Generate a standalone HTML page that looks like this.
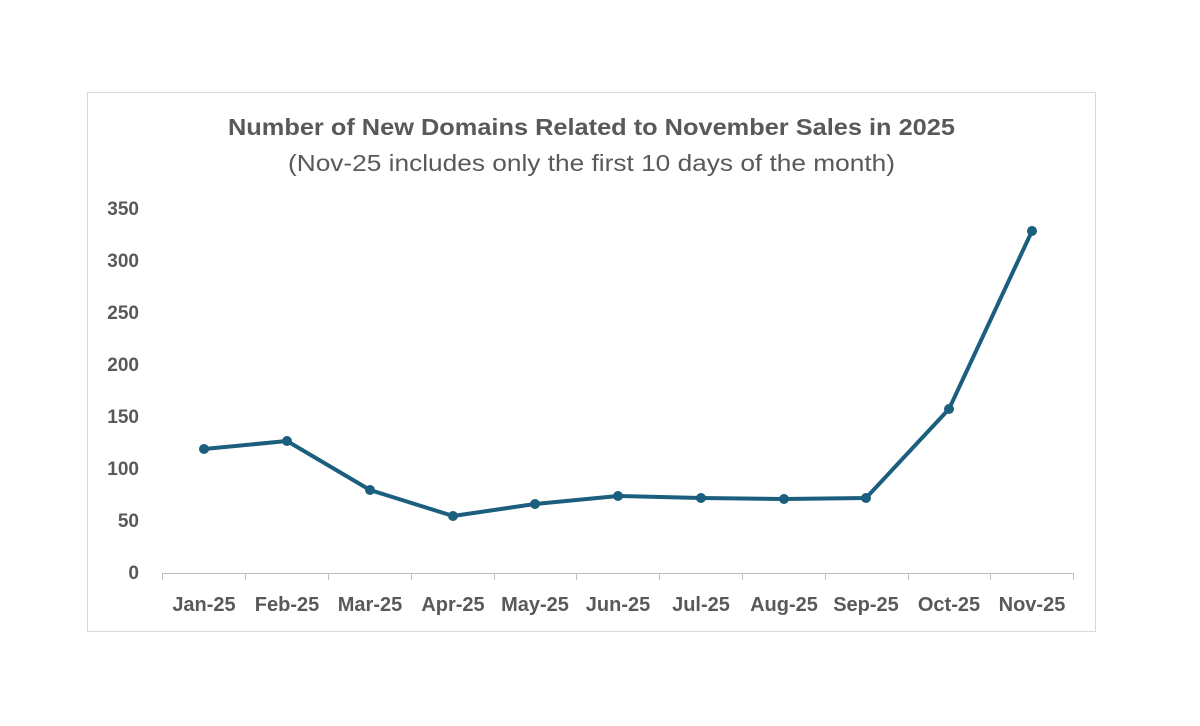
<!DOCTYPE html>
<html><head><meta charset="utf-8"><style>
html,body{margin:0;padding:0;background:#fff;}
</style></head><body>
<svg width="1200" height="721" xmlns="http://www.w3.org/2000/svg" font-family="'Liberation Sans', sans-serif">
<rect x="0" y="0" width="1200" height="721" fill="#fff"/>
<rect x="87.5" y="92.5" width="1008" height="539" fill="#fff" stroke="#d9d9d9" stroke-width="1"/>
<text x="228" y="135" font-size="23" font-weight="bold" fill="#595959" textLength="727" lengthAdjust="spacingAndGlyphs">Number of New Domains Related to November Sales in 2025</text>
<text x="288" y="171" font-size="23" fill="#595959" textLength="607" lengthAdjust="spacingAndGlyphs">(Nov-25 includes only the first 10 days of the month)</text>
<g font-size="19" font-weight="bold" fill="#595959" text-anchor="end">
<text x="139" y="579">0</text>
<text x="139" y="527">50</text>
<text x="139" y="475">100</text>
<text x="139" y="423">150</text>
<text x="139" y="371">200</text>
<text x="139" y="319">250</text>
<text x="139" y="267">300</text>
<text x="139" y="215">350</text>
</g>
<g stroke="#bfbfbf" stroke-width="1">
<line x1="162" y1="573.5" x2="1073" y2="573.5"/>
<line x1="162.5" y1="573" x2="162.5" y2="580"/>
<line x1="245.5" y1="573" x2="245.5" y2="580"/>
<line x1="328.5" y1="573" x2="328.5" y2="580"/>
<line x1="411.5" y1="573" x2="411.5" y2="580"/>
<line x1="494.5" y1="573" x2="494.5" y2="580"/>
<line x1="576.5" y1="573" x2="576.5" y2="580"/>
<line x1="659.5" y1="573" x2="659.5" y2="580"/>
<line x1="742.5" y1="573" x2="742.5" y2="580"/>
<line x1="825.5" y1="573" x2="825.5" y2="580"/>
<line x1="908.5" y1="573" x2="908.5" y2="580"/>
<line x1="990.5" y1="573" x2="990.5" y2="580"/>
<line x1="1073.5" y1="573" x2="1073.5" y2="580"/>
</g>
<g font-size="20" font-weight="bold" fill="#595959" text-anchor="middle">
<text x="204" y="611">Jan-25</text>
<text x="287" y="611">Feb-25</text>
<text x="370" y="611">Mar-25</text>
<text x="453" y="611">Apr-25</text>
<text x="535" y="611">May-25</text>
<text x="618" y="611">Jun-25</text>
<text x="701" y="611">Jul-25</text>
<text x="784" y="611">Aug-25</text>
<text x="866" y="611">Sep-25</text>
<text x="949" y="611">Oct-25</text>
<text x="1032" y="611">Nov-25</text>
</g>
<polyline fill="none" stroke="#1b5e7e" stroke-width="4" stroke-linejoin="round" points="204,449 287,441 370,490 453,516 535,504 618,496 701,498 784,499 866,498 949,409 1032,231"/>
<g fill="#1b5e7e">
<circle cx="204" cy="449" r="5"/><circle cx="287" cy="441" r="5"/><circle cx="370" cy="490" r="5"/><circle cx="453" cy="516" r="5"/><circle cx="535" cy="504" r="5"/><circle cx="618" cy="496" r="5"/><circle cx="701" cy="498" r="5"/><circle cx="784" cy="499" r="5"/><circle cx="866" cy="498" r="5"/><circle cx="949" cy="409" r="5"/><circle cx="1032" cy="231" r="5"/>
</g>
</svg>
</body></html>
